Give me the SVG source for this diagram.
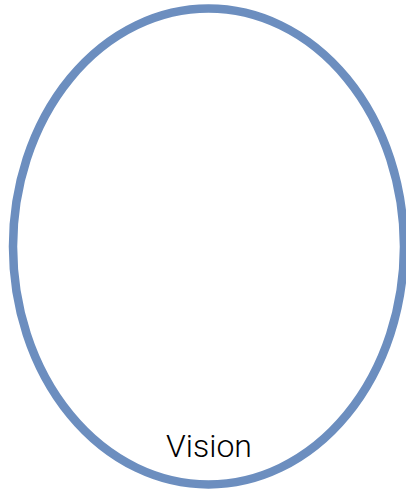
<svg xmlns="http://www.w3.org/2000/svg" width="406" height="490" viewBox="0 0 406 490">
<style>
.shape{fill:#ffffff;stroke:#6c8ebf;stroke-width:8.5}
.label{font-family:Roboto,"Liberation Sans",sans-serif;font-weight:300;font-size:32px;fill:#000000;text-anchor:middle}
</style>
<rect width="406" height="490" fill="#ffffff"/>
<g id="vision">
<ellipse class="shape" cx="208.5" cy="246.5" rx="195.5" ry="238"/>
<text class="label" x="209" y="457">Vision</text>
</g>
<g id="connectors"></g>
</svg>
